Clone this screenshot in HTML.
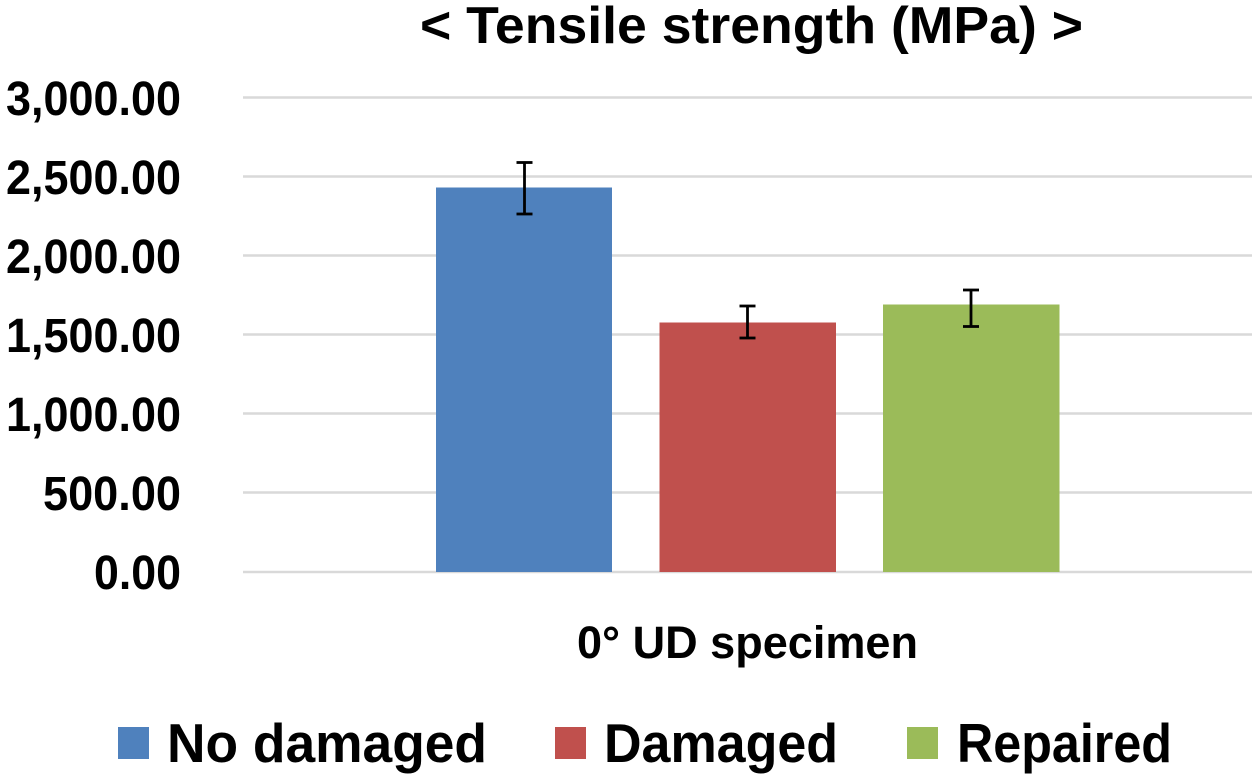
<!DOCTYPE html>
<html>
<head>
<meta charset="utf-8">
<style>
  html, body { margin: 0; padding: 0; background: #ffffff; }
  svg { display: block; }
  text { font-family: "Liberation Sans", "Noto Sans CJK KR", sans-serif; font-weight: bold; fill: #000; }
</style>
</head>
<body>
<svg width="1260" height="783" viewBox="0 0 1260 783" xmlns="http://www.w3.org/2000/svg">
  <rect width="1260" height="783" fill="#ffffff"/>
  <!-- Title -->
  <text x="420" y="43" font-size="52" textLength="663" lengthAdjust="spacingAndGlyphs">&lt; Tensile strength (MPa) &gt;</text>

  <!-- Gridlines -->
  <g stroke="#D9D9D9" stroke-width="2.5">
    <line x1="243" y1="97.5" x2="1252" y2="97.5"/>
    <line x1="243" y1="176.5" x2="1252" y2="176.5"/>
    <line x1="243" y1="255.5" x2="1252" y2="255.5"/>
    <line x1="243" y1="334.5" x2="1252" y2="334.5"/>
    <line x1="243" y1="413.5" x2="1252" y2="413.5"/>
    <line x1="243" y1="492.5" x2="1252" y2="492.5"/>
    <line x1="243" y1="572" x2="1252" y2="572"/>
  </g>

  <!-- Y tick labels -->
  <g font-size="48" text-anchor="end">
    <text x="181" y="115" textLength="175" lengthAdjust="spacingAndGlyphs">3,000.00</text>
    <text x="181" y="194" textLength="175" lengthAdjust="spacingAndGlyphs">2,500.00</text>
    <text x="181" y="273" textLength="175" lengthAdjust="spacingAndGlyphs">2,000.00</text>
    <text x="181" y="352" textLength="175" lengthAdjust="spacingAndGlyphs">1,500.00</text>
    <text x="181" y="431" textLength="175" lengthAdjust="spacingAndGlyphs">1,000.00</text>
    <text x="181" y="510" textLength="138" lengthAdjust="spacingAndGlyphs">500.00</text>
    <text x="181" y="589" textLength="87" lengthAdjust="spacingAndGlyphs">0.00</text>
  </g>

  <!-- Bars -->
  <rect x="436" y="187.5" width="176" height="384.5" fill="#4F81BD"/>
  <rect x="659.5" y="322.5" width="176.5" height="249.5" fill="#C0504D"/>
  <rect x="883" y="304.5" width="176.5" height="267.5" fill="#9BBB59"/>

  <!-- Error bars -->
  <g stroke="#000" stroke-width="2.8" fill="none">
    <line x1="524.5" y1="162.5" x2="524.5" y2="214"/>
    <line x1="516.5" y1="162.5" x2="532.5" y2="162.5"/>
    <line x1="516.5" y1="214" x2="532.5" y2="214"/>

    <line x1="747.5" y1="306" x2="747.5" y2="338"/>
    <line x1="739.5" y1="306" x2="755.5" y2="306"/>
    <line x1="739.5" y1="338" x2="755.5" y2="338"/>

    <line x1="971" y1="290" x2="971" y2="326.5"/>
    <line x1="963" y1="290" x2="979" y2="290"/>
    <line x1="963" y1="326.5" x2="979" y2="326.5"/>
  </g>

  <!-- X axis label -->
  <text x="577" y="658" font-size="45" textLength="341" lengthAdjust="spacingAndGlyphs">0° UD specimen</text>

  <!-- Legend -->
  <rect x="118" y="727" width="31" height="32" fill="#4F81BD"/>
  <text x="167" y="762" font-size="55" textLength="320" lengthAdjust="spacingAndGlyphs">No damaged</text>
  <rect x="555" y="727" width="31" height="32" fill="#C0504D"/>
  <text x="604" y="762" font-size="55" textLength="234" lengthAdjust="spacingAndGlyphs">Damaged</text>
  <rect x="907" y="727" width="31" height="32" fill="#9BBB59"/>
  <text x="957" y="762" font-size="55" textLength="215" lengthAdjust="spacingAndGlyphs">Repaired</text>
</svg>
</body>
</html>
